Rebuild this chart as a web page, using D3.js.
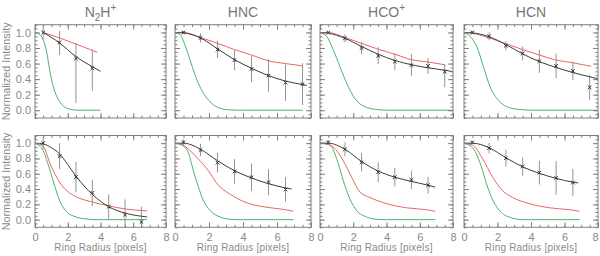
<!DOCTYPE html>
<html><head><meta charset="utf-8">
<script src="https://cdn.jsdelivr.net/npm/d3@7"></script>
<style>body{margin:0;background:#fff}svg{display:block}</style>
</head><body>
<svg id="c" width="600" height="256"></svg>
<script>
// ---------- tick labels / categories ----------
const xTickValues = [0, 2, 4, 6, 8];
const yTickValues = [0.0, 0.2, 0.4, 0.6, 0.8, 1.0];
const molecules = ["N2H+", "HNC", "HCO+", "HCN"];
const obsX = [0.5, 1.5, 2.5, 3.5, 4.5, 5.5, 6.5, 7.5];

// ---------- top row ----------
const n2hTopY = [1.0, 0.87, 0.665, 0.54];
const n2hTopErrHi = [0.09, 0.15, 0.2, 0.24];
const n2hTopErrLo = [0.09, 0.16, 0.57, 0.29];
const n2hTopFit = [[0.5,1.0],[1.5,0.865],[2.5,0.69],[3.5,0.56],[4.0,0.5]];
const n2hTopRed = [[0.5,1.0],[1.5,0.93],[2.5,0.85],[3.5,0.77],[3.8,0.745]];
const n2hTopGreen = [[0,1.0],[0.3,0.97],[0.55,0.88],[0.71,0.75],[0.91,0.5],[1.12,0.3],[1.42,0.14],[1.73,0.055],[2.1,0.015],[2.6,0.0],[4.0,0.0]];

const hncTopY = [1.0, 0.93, 0.78, 0.645, 0.53, 0.445, 0.355, 0.335];
const hncTopErr = [0.02, 0.06, 0.11, 0.13, 0.17, 0.21, 0.235, 0.27];
const hncTopFit = [[0,1.0],[0.5,0.995],[1.5,0.93],[2.5,0.79],[3.5,0.65],[4.5,0.54],[5.5,0.445],[6.5,0.375],[7.5,0.33],[7.75,0.32]];
const hncTopRed = [[0,1.0],[0.5,1.0],[1.5,0.935],[2.5,0.86],[3.5,0.78],[4.5,0.71],[5.5,0.635],[6.5,0.6],[7.5,0.57]];
const hncTopGreen = [[0,1.0],[0.3,0.97],[0.6,0.83],[0.88,0.65],[1.17,0.46],[1.47,0.3],[1.76,0.19],[2.06,0.11],[2.35,0.055],[2.65,0.025],[3.2,0.005],[4,0],[7.5,0]];

const hcoTopY = [1.0, 0.925, 0.80, 0.70, 0.625, 0.58, 0.57, 0.495];
const hcoTopErrHi = [0.01, 0.05, 0.08, 0.11, 0.11, 0.14, 0.1, 0.1];
const hcoTopErrLo = [0.01, 0.05, 0.08, 0.11, 0.11, 0.14, 0.1, 0.2];
const hcoTopFit = [[0,1.0],[0.5,0.99],[1.5,0.925],[2.5,0.82],[3.5,0.72],[4.5,0.64],[5.5,0.585],[6.5,0.545],[7.5,0.515],[8,0.495]];
const hcoTopRed = [[0,1.0],[0.5,1.0],[1.5,0.935],[2.5,0.86],[3.5,0.785],[4.5,0.72],[5.5,0.65],[6.5,0.62],[7.5,0.585]];
const hcoTopGreen = [[0,1.0],[0.4,0.95],[0.8,0.775],[1.2,0.56],[1.6,0.35],[2.1,0.15],[2.6,0.055],[3.4,0.01],[4.2,0],[8,0]];

const hcnTopY = [1.0, 0.95, 0.83, 0.73, 0.63, 0.57, 0.505, 0.295];
const hcnTopErr = [0.02, 0.05, 0.06, 0.09, 0.15, 0.16, 0.12, 0.16];
const hcnTopFit = [[0,1.0],[0.5,0.995],[1.5,0.945],[2.5,0.845],[3.5,0.725],[4.5,0.625],[5.5,0.55],[6.5,0.485],[7.5,0.43],[8,0.405]];
const hcnTopRed = [[0,1.0],[0.5,0.99],[1.5,0.93],[2.5,0.855],[3.5,0.78],[4.5,0.71],[5.5,0.645],[6.5,0.61],[7.6,0.565]];
const hcnTopGreen = [[0,1.0],[0.4,0.94],[0.76,0.82],[1.16,0.56],[1.56,0.30],[2.05,0.13],[2.55,0.045],[3.3,0.01],[4.2,0],[8,0]];

// ---------- bottom row ----------
const n2hBotY = [1.0, 0.83, 0.556, 0.35, 0.17, 0.065, -0.03];
const n2hBotErr = [0.08, 0.17, 0.2, 0.17, 0.16, 0.2, 0.2];
const n2hBotFit = [[0,1.0],[0.5,0.99],[1.0,0.94],[1.5,0.86],[2.0,0.72],[2.5,0.57],[3.0,0.44],[3.5,0.33],[4.0,0.24],[4.5,0.17],[5.5,0.085],[6.5,0.045],[6.85,0.035]];
const n2hBotRed = [[0,1.0],[0.5,0.96],[0.92,0.73],[1.5,0.49],[2.1,0.35],[2.5,0.3],[3.5,0.23],[4.5,0.18],[5.5,0.14],[6.85,0.115]];
const n2hBotGreen = [[0,1.0],[0.5,0.9],[0.92,0.64],[1.22,0.43],[1.5,0.25],[1.9,0.11],[2.5,0.035],[3.1,0.01],[3.6,0],[6.85,0]];

const hncBotY = [1.01, 0.91, 0.745, 0.63, 0.555, 0.49, 0.395];
const hncBotErr = [0.04, 0.08, 0.13, 0.16, 0.18, 0.17, 0.16];
const hncBotFit = [[0,1.0],[0.5,1.0],[1.5,0.92],[2.5,0.77],[3.5,0.64],[4.5,0.545],[5.5,0.47],[6.5,0.415],[6.86,0.4]];
const hncBotRed = [[0,1.0],[0.5,0.97],[1.08,0.86],[1.96,0.64],[2.55,0.45],[3.2,0.34],[4.1,0.23],[5.3,0.165],[6.5,0.13],[6.95,0.11]];
const hncBotGreen = [[0,1.0],[0.5,0.96],[0.78,0.88],[1.08,0.64],[1.37,0.43],[1.67,0.25],[2.06,0.12],[2.65,0.035],[3.24,0.005],[3.8,0],[6.95,0]];

const hcoBotY = [1.01, 0.92, 0.75, 0.62, 0.555, 0.52, 0.45];
const hcoBotErr = [0.03, 0.09, 0.12, 0.13, 0.12, 0.12, 0.11];
const hcoBotFit = [[0,1.0],[0.5,1.0],[1.5,0.92],[2.5,0.76],[3.5,0.635],[4.5,0.555],[5.5,0.5],[6.5,0.45],[6.93,0.425]];
const hcoBotRed = [[0,1.0],[0.4,0.99],[0.8,0.95],[1.4,0.77],[1.9,0.555],[2.4,0.36],[3.0,0.29],[4.0,0.21],[5.2,0.155],[6.4,0.13],[6.93,0.11]];
const hcoBotGreen = [[0,1.0],[0.4,0.99],[0.7,0.95],[1.1,0.73],[1.4,0.51],[1.8,0.27],[2.2,0.12],[2.8,0.035],[3.4,0.005],[4,0],[6.93,0]];

const hcnBotY = [1.01, 0.935, 0.805, 0.695, 0.615, 0.545, 0.485];
const hcnBotErr = [0.02, 0.07, 0.11, 0.12, 0.155, 0.22, 0.18];
const hcnBotFit = [[0,1.0],[0.5,1.0],[1.5,0.94],[2.5,0.81],[3.5,0.69],[4.5,0.605],[5.5,0.54],[6.5,0.49],[6.82,0.48]];
const hcnBotRed = [[0,1.0],[0.55,0.97],[1.1,0.8],[1.7,0.56],[2.3,0.38],[2.9,0.29],[3.9,0.21],[5.1,0.155],[6.3,0.13],[6.9,0.11]];
const hcnBotGreen = [[0,1.0],[0.55,0.93],[1.04,0.69],[1.34,0.47],[1.73,0.25],[2.2,0.1],[2.9,0.02],[3.5,0.0],[6.9,0]];

// ---------- assemble ----------
const panels = [
  {row:0,col:0,y:n2hTopY,hi:n2hTopErrHi,lo:n2hTopErrLo,fit:n2hTopFit,red:n2hTopRed,green:n2hTopGreen},
  {row:0,col:1,y:hncTopY,hi:hncTopErr,lo:hncTopErr,fit:hncTopFit,red:hncTopRed,green:hncTopGreen},
  {row:0,col:2,y:hcoTopY,hi:hcoTopErrHi,lo:hcoTopErrLo,fit:hcoTopFit,red:hcoTopRed,green:hcoTopGreen},
  {row:0,col:3,y:hcnTopY,hi:hcnTopErr,lo:hcnTopErr,fit:hcnTopFit,red:hcnTopRed,green:hcnTopGreen},
  {row:1,col:0,y:n2hBotY,hi:n2hBotErr,lo:n2hBotErr,fit:n2hBotFit,red:n2hBotRed,green:n2hBotGreen},
  {row:1,col:1,y:hncBotY,hi:hncBotErr,lo:hncBotErr,fit:hncBotFit,red:hncBotRed,green:hncBotGreen},
  {row:1,col:2,y:hcoBotY,hi:hcoBotErr,lo:hcoBotErr,fit:hcoBotFit,red:hcoBotRed,green:hcoBotGreen},
  {row:1,col:3,y:hcnBotY,hi:hcnBotErr,lo:hcnBotErr,fit:hcnBotFit,red:hcnBotRed,green:hcnBotGreen}
];

const colLeft = [35, 175, 320, 464], colRight = [166, 311, 453, 598];
const rowTop = [24.7, 135.5], rowBottom = [118, 227.3];
const FONT = "'Liberation Sans', Arial, sans-serif";
const AX = "#808080", TXT = "#8a8a8a";

const svg = d3.select("#c");
const defs = svg.append("defs");

panels.forEach((p, i) => {
  const x = d3.scaleLinear().domain([0, 8]).range([colLeft[p.col], colRight[p.col]]);
  const y = d3.scaleLinear().domain([-0.1, 1.1]).range([rowBottom[p.row], rowTop[p.row]]);
  const g = svg.append("g");

  defs.append("clipPath").attr("id", "cp" + i).append("rect")
    .attr("x", x(0)).attr("y", y(1.1)).attr("width", x(8) - x(0)).attr("height", y(-0.1) - y(1.1));
  const plot = g.append("g").attr("clip-path", `url(#cp${i})`);

  const line = d3.line().x(d => x(d[0])).y(d => y(d[1])).curve(d3.curveMonotoneX);
  plot.append("path").datum(p.green).attr("d", line).attr("fill", "none").attr("stroke", "#4cb26e").attr("stroke-width", 1);
  plot.append("path").datum(p.red).attr("d", line).attr("fill", "none").attr("stroke", "#e26a62").attr("stroke-width", 1);

  const obs = p.y.map((v, k) => ({x: obsX[k], y: v, hi: p.hi[k], lo: p.lo[k]}));
  plot.selectAll(".eb").data(obs).enter().append("line")
    .attr("x1", d => x(d.x)).attr("x2", d => x(d.x))
    .attr("y1", d => y(d.y + d.hi)).attr("y2", d => y(d.y - d.lo))
    .attr("stroke", "#949494").attr("stroke-width", 1);

  plot.append("path").datum(p.fit).attr("d", line).attr("fill", "none").attr("stroke", "#3c3c3c").attr("stroke-width", 1);

  const m = 1.8;
  plot.selectAll(".mk").data(obs).enter().append("path")
    .attr("d", d => `M${x(d.x)-m},${y(d.y)-m}L${x(d.x)+m},${y(d.y)+m}M${x(d.x)-m},${y(d.y)+m}L${x(d.x)+m},${y(d.y)-m}`)
    .attr("stroke", "#333").attr("stroke-width", 1);

  // axes (inward ticks, all four sides)
  const styleAxis = sel => {
    sel.select(".domain").remove();
    sel.selectAll(".tick line").attr("stroke", AX);
    sel.selectAll(".tick text").attr("fill", TXT).style("font-family", FONT).style("font-size", "11px");
  };
  const xMinor = d3.range(0, 8.001, 0.5);
  const yMinor = d3.range(-0.1, 1.1001, 0.05);
  const bottomY = y(-0.1), topY = y(1.1), leftX = x(0), rightX = x(8);

  g.append("g").attr("transform", `translate(0,${bottomY})`)
    .call(d3.axisBottom(x).tickValues(xMinor).tickSize(-2.5).tickFormat("")).call(styleAxis);
  const bx = g.append("g").attr("transform", `translate(0,${bottomY})`)
    .call(d3.axisBottom(x).tickValues(xTickValues).tickSize(-5).tickPadding(5.5)
      .tickFormat(p.row === 1 ? d3.format("d") : "")).call(styleAxis);
  if (p.row === 1 && p.col === 3) {
    bx.selectAll(".tick text").filter(d => d === 8).attr("dx", -3);
  }
  g.append("g").attr("transform", `translate(0,${topY})`)
    .call(d3.axisTop(x).tickValues(xMinor).tickSize(-2.5).tickFormat("")).call(styleAxis);
  g.append("g").attr("transform", `translate(0,${topY})`)
    .call(d3.axisTop(x).tickValues(xTickValues).tickSize(-5).tickFormat("")).call(styleAxis);
  g.append("g").attr("transform", `translate(${leftX},0)`)
    .call(d3.axisLeft(y).tickValues(yMinor).tickSize(-2.5).tickFormat("")).call(styleAxis);
  g.append("g").attr("transform", `translate(${leftX},0)`)
    .call(d3.axisLeft(y).tickValues(yTickValues).tickSize(-5).tickPadding(4)
      .tickFormat(p.col === 0 ? d3.format(".1f") : "")).call(styleAxis);
  g.append("g").attr("transform", `translate(${rightX},0)`)
    .call(d3.axisRight(y).tickValues(yMinor).tickSize(-2.5).tickFormat("")).call(styleAxis);
  g.append("g").attr("transform", `translate(${rightX},0)`)
    .call(d3.axisRight(y).tickValues(yTickValues).tickSize(-5).tickFormat("")).call(styleAxis);

  g.append("rect").attr("x", leftX).attr("y", topY).attr("width", rightX - leftX).attr("height", bottomY - topY)
    .attr("fill", "none").attr("stroke", AX).attr("stroke-width", 1);

  const cx = (leftX + rightX) / 2;
  if (p.row === 1) {
    g.append("text").attr("x", cx).attr("y", 251).attr("text-anchor", "middle")
      .attr("fill", TXT).style("font-family", FONT).style("font-size", "10px")
      .style("letter-spacing", "0.2px").text("Ring Radius [pixels]");
  }
  if (p.col === 0) {
    g.append("text").attr("transform", `translate(10,${(topY + bottomY) / 2}) rotate(-90)`)
      .attr("text-anchor", "middle").attr("fill", TXT)
      .style("font-family", FONT).style("font-size", "10.8px").text("Normalized Intensity");
  }
  if (p.row === 0) {
    const t = g.append("text").attr("x", cx).attr("y", 17).attr("text-anchor", "middle")
      .attr("fill", "#777").style("font-family", FONT).style("font-size", "14px");
    const name = molecules[p.col];
    if (name === "N2H+") {
      t.append("tspan").text("N");
      t.append("tspan").attr("dy", 4).style("font-size", "10px").text("2");
      t.append("tspan").attr("dy", -4).text("H");
      t.append("tspan").attr("dy", -6).style("font-size", "10px").text("+");
    } else if (name.endsWith("+")) {
      t.append("tspan").text(name.slice(0, -1));
      t.append("tspan").attr("dy", -6).style("font-size", "10px").text("+");
    } else {
      t.text(name);
    }
  }
});
</script>
</body></html>
